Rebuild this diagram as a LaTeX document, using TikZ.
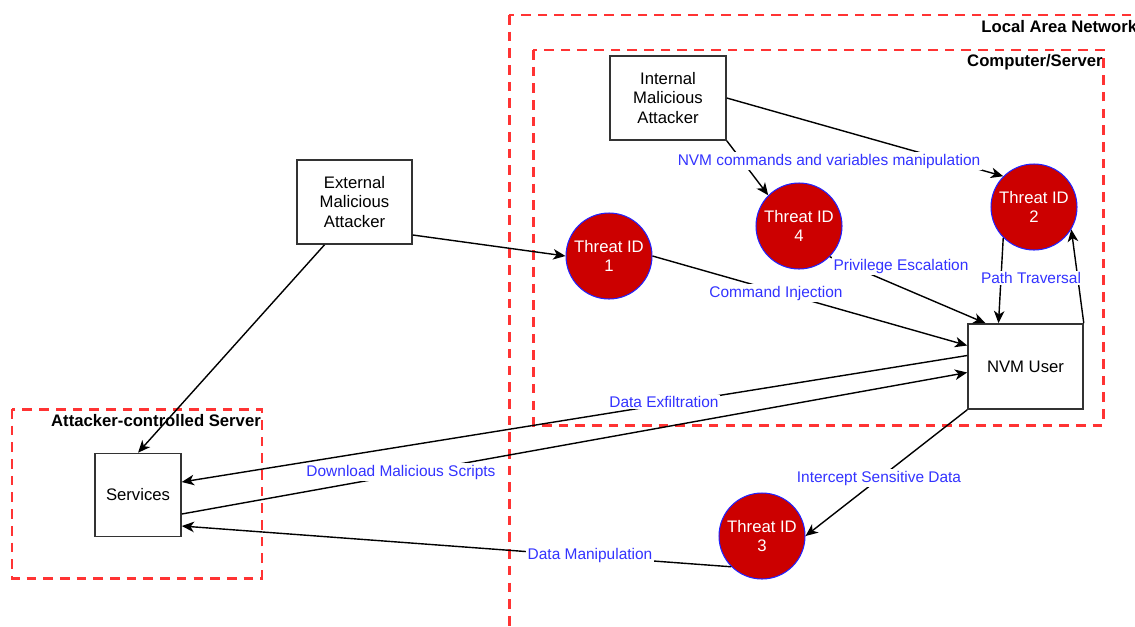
\documentclass[tikz,border=0pt]{standalone}
\usepackage{fontspec}
\setmainfont{Liberation Sans}
\usetikzlibrary{arrows.meta,calc}
\definecolor{dred}{HTML}{CC0000}
\definecolor{dashred}{HTML}{FF3333}
\definecolor{lblue}{HTML}{3333FF}
\definecolor{cblue}{HTML}{2222FF}
\begin{document}
\begin{tikzpicture}[x=0.02cm,y=-0.02cm,
  zone/.style={draw=dashred, line width=1.7pt, dash pattern=on 5.5pt off 4pt},
  actor/.style={draw=black!80, line width=0.9pt, fill=white, align=center, font=\fontsize{9.5}{11}\selectfont, inner sep=0pt},
  threat/.style={circle, draw=cblue, line width=0.6pt, fill=dred, text=white, align=center, font=\fontsize{9.5}{11}\selectfont, minimum size=1.72cm, inner sep=0pt},
  conn/.style={draw=black, line width=0.8pt, -{Stealth[length=7pt,width=6pt,inset=2pt]}},
  lbl/.style={fill=white, text=lblue, font=\fontsize{8.8}{10}\selectfont, inner sep=1pt},
  ztitle/.style={font=\fontsize{9.5}{11}\selectfont\bfseries, inner sep=0pt}
]
\useasboundingbox (0,0) rectangle (1135,626);
\clip (0,0) rectangle (1135,626);
% zones
\draw[zone] (509,15) rectangle (1160,660);
\draw[zone] (533,50) rectangle (1103,425);
\draw[zone] (12,409) rectangle (262,578);
\node[ztitle, anchor=west] (lantitle) at (981,27) {Local Area Network};
\node[ztitle, anchor=east] (cstitle) at (1103,62) {Computer/Server};
\node[ztitle] (acstitle) at (156,421) {Attacker-controlled Server};
% nodes
\node[actor, minimum width=2.32cm, minimum height=1.68cm] (int) at (668,98) {Internal\\Malicious\\Attacker};
\node[actor, minimum width=2.3cm, minimum height=1.68cm] (ext) at (354.5,202) {External\\Malicious\\Attacker};
\node[actor, minimum width=1.72cm, minimum height=1.66cm] (svc) at (138,495) {Services};
\node[actor, minimum width=2.3cm, minimum height=1.7cm] (nvm) at (1025.5,366.5) {NVM User};
\node[threat] (t1) at (609,256) {Threat ID\\1};
\node[threat] (t4) at (799,226) {Threat ID\\4};
\node[threat] (t2) at (1034,207) {Threat ID\\2};
\node[threat] (t3) at (762,536) {Threat ID\\3};
% connectors
\draw[conn] (int.east) -- (t2.135);
\draw[conn] (int.south east) -- (t4.135);
\draw[conn] ($(ext.east)+(0,33)$) -- (t1.west);
\draw[conn] ($(ext.south)+(-30,0)$) -- (svc.north);
\draw[conn] (t1.east) -- ($(nvm.west)+(0,-21)$);
\draw[conn] (t4.-45) -- ($(nvm.north)+(-40,0)$);
\draw[conn] (t2.-135) -- ($(nvm.north)+(-27,0)$);
\draw[conn] (nvm.north east) -- (t2.-31);
\draw[conn] ($(nvm.west)+(0,-11)$) -- ($(svc.east)+(0,-13)$);
\draw[conn] ($(svc.east)+(0,19)$) -- ($(nvm.west)+(0,6)$);
\draw[conn] (t3.-135) -- ($(svc.east)+(0,31)$);
\draw[conn] (nvm.south west) -- (t3.east);
% labels
\node[lbl] (l1) at (829,161) {NVM commands and variables manipulation};
\node[lbl] (l2) at (776,293) {Command Injection};
\node[lbl] (l3) at (901,266) {Privilege Escalation};
\node[lbl] (l4) at (1031,278) {Path Traversal};
\node[lbl] (l5) at (664,402) {Data Exfiltration};
\node[lbl] (l6) at (401,472) {Download Malicious Scripts};
\node[lbl] (l7) at (879,478) {Intercept Sensitive Data};
\node[lbl] (l8) at (590,555) {Data Manipulation};
\end{tikzpicture}
\end{document}
